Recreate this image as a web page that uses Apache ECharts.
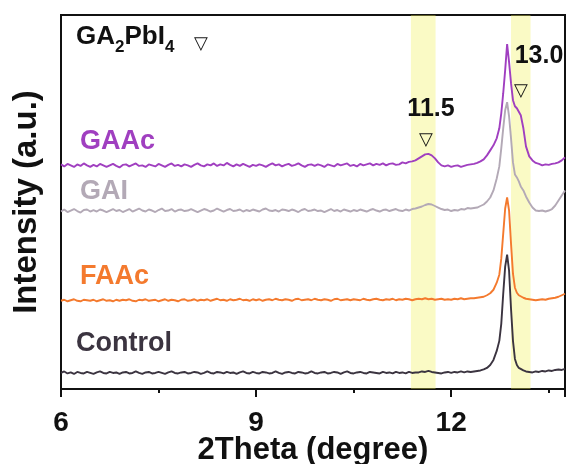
<!DOCTYPE html>
<html>
<head>
<meta charset="utf-8">
<script src="https://cdn.jsdelivr.net/npm/echarts@6/dist/echarts.min.js"></script>
<style>
  html, body { margin: 0; padding: 0; background: #fff; }
  #chart { width: 566px; height: 464px; }
</style>
</head>
<body>
<div id="chart"></div>
<script>
// 2Theta 采样点 (平坦段 0.05 步长, 峰附近加密)
const twoTheta = [
  6.0, 6.05, 6.1, 6.15, 6.2, 6.25, 6.3, 6.35, 6.4, 6.45,
  6.5, 6.55, 6.6, 6.65, 6.7, 6.75, 6.8, 6.85, 6.9, 6.95,
  7.0, 7.05, 7.1, 7.15, 7.2, 7.25, 7.3, 7.35, 7.4, 7.45,
  7.5, 7.55, 7.6, 7.65, 7.7, 7.75, 7.8, 7.85, 7.9, 7.95,
  8.0, 8.05, 8.1, 8.15, 8.2, 8.25, 8.3, 8.35, 8.4, 8.45,
  8.5, 8.55, 8.6, 8.65, 8.7, 8.75, 8.8, 8.85, 8.9, 8.95,
  9.0, 9.05, 9.1, 9.15, 9.2, 9.25, 9.3, 9.35, 9.4, 9.45,
  9.5, 9.55, 9.6, 9.65, 9.7, 9.75, 9.8, 9.85, 9.9, 9.95,
  10.0, 10.05, 10.1, 10.15, 10.2, 10.25, 10.3, 10.35, 10.4, 10.45,
  10.5, 10.55, 10.6, 10.65, 10.7, 10.75, 10.8, 10.85, 10.9, 10.95,
  11.0, 11.05, 11.1, 11.15, 11.2, 11.25, 11.3, 11.35, 11.4, 11.45,
  11.5, 11.55, 11.6, 11.65, 11.7, 11.75, 11.8, 11.85, 11.9, 11.95,
  12.0, 12.05, 12.1, 12.15, 12.2, 12.25, 12.3,
  12.35, 12.4, 12.45, 12.5, 12.55, 12.6, 12.65, 12.7, 12.74, 12.77,
  12.8, 12.83, 12.86, 12.89, 12.92, 12.95, 12.98, 13.01, 13.04, 13.07,
  13.11, 13.15, 13.2, 13.25, 13.3, 13.35, 13.4, 13.45, 13.5, 13.55,
  13.6, 13.65, 13.7, 13.75
];

// 各样品强度 (已含纵向偏移)
const control = [
  16, 17.5, 15.5, 16.5, 15, 17, 16, 15.5, 17, 16,
  15, 16.5, 17.5, 16, 15.5, 17, 16, 16.5, 15, 16.5,
  17, 15.5, 16, 17.5, 16, 15, 16.5, 17, 15.5, 16,
  17, 16, 15, 16.5, 17.5, 16, 15.5, 16.5, 17, 15.5,
  16, 17, 16.5, 15, 16, 17.5, 16, 15.5, 17, 16.5,
  15.5, 17, 16, 16.5, 15, 16.5, 17.5, 16, 15.5, 17,
  16, 15.5, 17, 16.5, 15.5, 16, 17.5, 16, 15, 16.5,
  17, 16, 15.5, 17, 16.5, 15.5, 16, 17.5, 16, 15.5,
  16.5, 17, 15.5, 16, 17, 16.5, 15, 16.5, 17.5, 16,
  15.5, 16.5, 17, 16, 15.5, 17, 16.5, 16, 15.5, 17,
  16, 16.5, 15.5, 17, 16, 16.5, 15.5, 17, 16, 16.5,
  16.5, 17.5, 17, 18, 17, 16.5, 16, 15.5, 16.5, 17,
  16, 17, 16.5, 17.5, 16.5, 17.5, 17,
  17.5, 18, 18.5, 19.5, 21, 24, 29, 38, 48, 65,
  95, 122, 134, 118, 80, 48, 30, 24, 21, 19.5,
  18.5, 17.5, 17, 16.5, 17.5, 17, 18, 17.5, 18.5, 18,
  19, 19.5, 19, 20
];
const faac = [
  88, 89, 87.5, 88.5, 89.5, 88, 87.5, 89, 88.5, 88,
  89, 87.5, 88.5, 89.5, 88, 88.5, 87.5, 89, 88, 89,
  88.5, 89.5, 88, 87.5, 89, 88.5, 89.5, 88, 88.5, 89,
  87.5, 88.5, 89.5, 88, 89, 88.5, 87.5, 89, 89.5, 88,
  88.5, 89.5, 88, 89, 88.5, 89.5, 88, 89, 90, 88.5,
  89, 88, 89.5, 88.5, 89, 90, 88.5, 89, 88, 89.5,
  88.5, 89.5, 88, 89, 89.5, 88.5, 90, 89, 88.5, 89.5,
  89, 88, 89.5, 90, 88.5, 89, 89.5, 88.5, 90, 89,
  88.5, 89.5, 89, 88, 89.5, 90, 88.5, 89, 89.5, 88.5,
  89.5, 89, 88.5, 90, 89, 88.5, 89.5, 90, 89, 88.5,
  89.5, 89, 90, 88.5, 89.5, 89, 90, 89.5, 88.5, 89.5,
  90, 89.5, 90.5, 89.5, 90, 89, 89.5, 90, 89, 89.5,
  89, 90, 89.5, 90.5, 89.5, 90, 90.5,
  90.5, 91, 91.5, 92, 93.5, 95.5, 99, 106, 114, 130,
  155, 180, 191, 178, 145, 115, 101, 96, 93.5, 92,
  91, 90, 89.5, 89, 88.5, 89, 89.5, 89, 90, 90.5,
  91, 92, 93.5, 95
];
const gai = [
  177, 179, 176.5, 178, 179.5, 177.5, 176, 178.5, 179, 177,
  178.5, 177, 179, 178, 176.5, 178, 179.5, 177.5, 178.5, 176.5,
  178, 179.5, 177, 178.5, 180, 178, 177, 179, 178, 176.5,
  178.5, 180, 177.5, 178, 179.5, 177, 178.5, 179, 177.5, 178,
  179.5, 178, 176.5, 178, 179.5, 178.5, 177, 178, 180, 178.5,
  177, 178.5, 179.5, 177.5, 178, 179, 177, 178.5, 177.5, 179,
  178, 177, 179, 180, 178, 177.5, 178.5, 177, 179, 178.5,
  177.5, 179, 178, 176.5, 178.5, 179.5, 177.5, 178, 179, 177.5,
  178, 176.5, 178, 179.5, 177.5, 178.5, 177, 179, 178, 177,
  178.5, 177.5, 179, 178, 177, 178.5, 179.5, 178, 177, 178.5,
  179, 177.5, 178.5, 179.5, 178, 177.5, 179, 178, 179.5, 180,
  181, 182, 183.5, 184.5, 184, 182.5, 181, 179.5, 178.5, 179,
  177.5, 178.5, 178, 179.5, 179, 180.5, 180,
  180.5, 181, 182.5, 184, 187, 191, 198, 210, 222, 240,
  260, 278, 286, 272, 250, 226, 214, 211, 207, 202,
  198, 192, 186, 181, 178, 177.5, 178, 177, 178, 179.5,
  183, 188, 193, 198
];
const gaac = [
  224, 222, 224.5, 223, 221.5, 224, 222.5, 225, 223, 221.5,
  223.5, 222, 224.5, 223, 221.5, 223, 224.5, 222.5, 221, 223.5,
  224, 222, 223.5, 225, 222.5, 223, 221.5, 224, 223, 222,
  224.5, 223, 221.5, 223.5, 225, 222.5, 223.5, 222, 224, 223,
  221.5, 223.5, 225, 223, 222, 224, 223, 225, 222.5, 224,
  223, 225.5, 223.5, 222, 224, 222.5, 224.5, 223, 221.5, 223.5,
  222.5, 224, 223, 221.5, 223.5, 225, 223, 224, 222, 223.5,
  224.5, 222.5, 223.5, 225, 223, 221.5, 223.5, 224, 222.5, 224,
  223, 221.5, 224, 223, 222, 224.5, 223, 224, 225, 222.5,
  223.5, 222, 224.5, 223, 224, 225, 223, 224.5, 223.5, 225,
  223, 224.5, 225, 223.5, 224, 226, 225, 226.5, 227, 228,
  230, 232, 234, 234.5, 233, 230, 226, 223, 222, 223,
  221.5, 222.5, 223, 221.5, 222.5, 223.5, 224,
  224.5, 225.5, 227, 229, 233, 238, 243, 250, 260, 275,
  295, 318, 344, 326, 305, 288, 282, 280, 279, 273,
  260, 242, 232, 228, 225.5, 224.5, 223, 224, 223.5, 224.5,
  225, 226, 228, 231
];

// 高亮区间
const bandRanges = [[11.38, 11.76], [12.92, 13.22]];

const seriesNames = ["Control", "FAAc", "GAI", "GAAc"];
const seriesColors = ["#3b3440", "#f47a2e", "#b3a9b6", "#a03fc0"];
const seriesData = [control, faac, gai, gaac];

let myChart = echarts.init(document.getElementById("chart"));

const font = "Liberation Sans, Arial, sans-serif";

function pairs(ys) {
  return twoTheta.map(function (x, i) {
    return [x, ys[i]];
  });
}

let series = seriesNames.map(function (name, i) {
  return {
    name: name,
    type: "line",
    data: pairs(seriesData[i]),
    showSymbol: false,
    symbol: "none",
    lineStyle: { color: seriesColors[i], width: 1.9 },
    z: 2,
  };
});

// 黄色区间 (盖在曲线上)
series.push({
  type: "line",
  data: [],
  z: 5,
  silent: true,
  markArea: {
    silent: true,
    itemStyle: { color: "rgba(240,240,90,0.35)" },
    data: bandRanges.map(function (r) {
      return [{ xAxis: r[0] }, { xAxis: r[1] }];
    }),
  },
});

// 文字标注
function label(x, y, text, color, size, align) {
  return {
    type: "text",
    x: x,
    y: y,
    z: 100,
    style: {
      text: text,
      font: "bold " + size + "px " + font,
      fill: color,
      align: align || "left",
      verticalAlign: "middle",
    },
  };
}
function triangle(x, y) {
  return {
    type: "text",
    x: x,
    y: y,
    z: 100,
    style: { text: "▽", font: "18px DejaVu Sans", fill: "#111", align: "center", verticalAlign: "middle" },
  };
}

let option = {
  animation: false,
  grid: {
    left: 61,
    top: 15,
    right: 1,
    bottom: 75,
    outerBoundsMode: "none",
    show: true,
    borderColor: "#111",
    borderWidth: 2,
  },
  xAxis: [
    {
      type: "value",
      min: 6,
      max: 13.75,
      interval: 3,
      name: "2Theta (degree)",
      nameLocation: "middle",
      nameGap: 46,
      nameMoveOverlap: false,
      nameTextStyle: { color: "#111", fontSize: 31, fontWeight: "bold", fontFamily: font },
      axisLine: { lineStyle: { color: "#111", width: 2 } },
      axisTick: { length: 8, lineStyle: { color: "#111", width: 2 } },
      axisLabel: {
        color: "#111",
        fontSize: 28,
        fontWeight: "bold",
        fontFamily: font,
        margin: 20,
        formatter: function (v) {
          return v % 3 === 0 ? String(v) : "";
        },
      },
      splitLine: { show: false },
    },
    {
      // 次刻度
      type: "value",
      position: "bottom",
      min: 6,
      max: 13.75,
      interval: 1.5,
      axisLine: { show: false },
      axisTick: { length: 4, lineStyle: { color: "#111", width: 2 } },
      axisLabel: { show: false },
      splitLine: { show: false },
    },
  ],
  yAxis: {
    type: "value",
    min: 0,
    max: 373,
    name: "Intensity (a.u.)",
    nameLocation: "middle",
    nameGap: 18,
    nameMoveOverlap: false,
    nameTextStyle: { color: "#111", fontSize: 33, fontWeight: "bold", fontFamily: font },
    axisLine: { show: true, lineStyle: { color: "#111", width: 2 } },
    axisTick: { show: false },
    axisLabel: { show: false },
    splitLine: { show: false },
  },
  series: series,
  graphic: [
    {
      type: "text",
      left: 76,
      top: 24,
      z: 100,
      style: {
        text: "{a|GA}{s|2}{a|PbI}{s|4}",
        fill: "#111",
        font: "bold 26px " + font,
        rich: {
          a: { fontSize: 26, fontWeight: "bold", fontFamily: font, lineHeight: 38, fill: "#111" },
          s: { fontSize: 17, fontWeight: "bold", fontFamily: font, lineHeight: 17, verticalAlign: "bottom", fill: "#111" },
        },
      },
    },
    triangle(201, 44),
    label(80, 142, "GAAc", seriesColors[3], 27),
    label(80, 192, "GAI", seriesColors[2], 27),
    label(80, 277, "FAAc", seriesColors[1], 27),
    label(76, 344, "Control", seriesColors[0], 27),
    label(431, 109, "11.5", "#111", 25, "center"),
    triangle(426, 140),
    label(539, 56, "13.0", "#111", 25, "center"),
    triangle(521, 91),
  ],
};

myChart.setOption(option);
window.addEventListener("resize", function () {
  myChart.resize();
});
</script>
</body>
</html>
